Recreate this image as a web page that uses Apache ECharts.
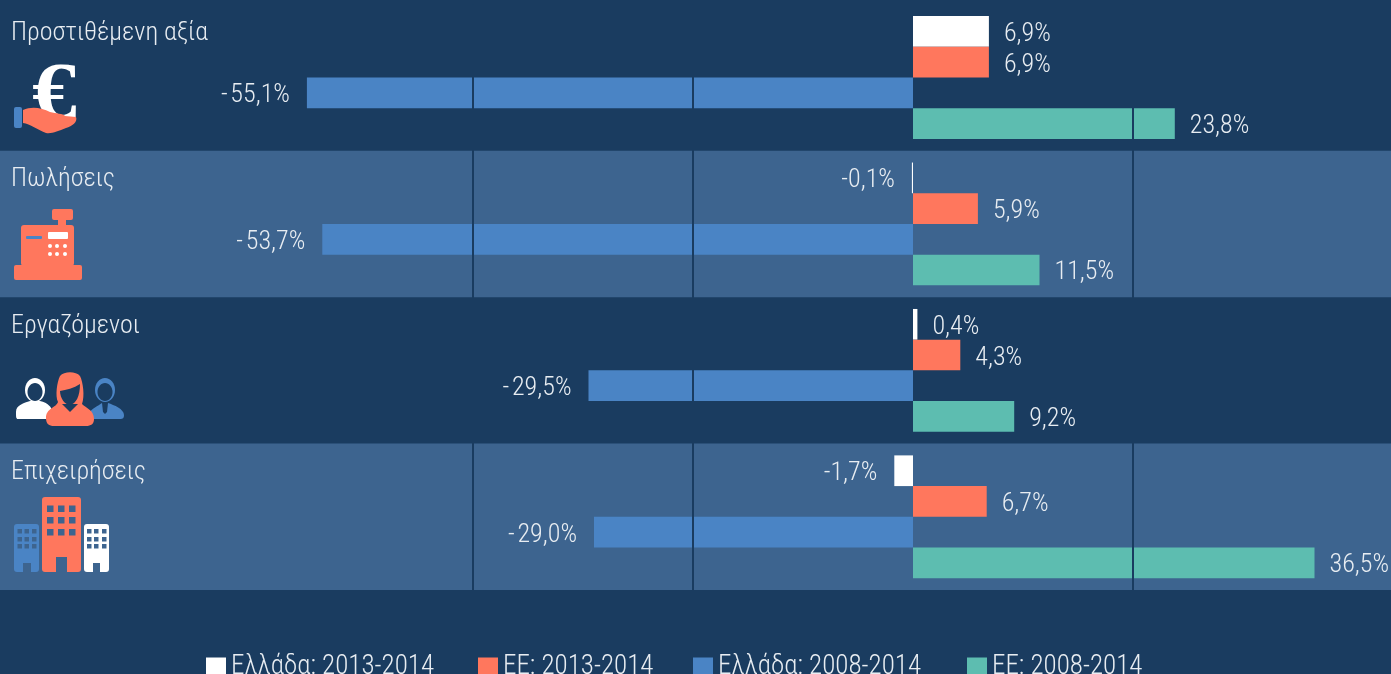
<!DOCTYPE html>
<html>
<head>
    <meta charset="utf-8">
    <title>Προστιθέμενη αξία</title>
    <script src="https://cdn.jsdelivr.net/npm/echarts@6/dist/echarts.min.js"></script>
    <style>
        html, body { margin: 0; padding: 0; background: #1a3c60; overflow: hidden; }
        #main { width: 1391px; height: 674px; }
    </style>
</head>
<body>
<div id="main"></div>
<script>
var categories = ['Προστιθέμενη αξία', 'Πωλήσεις', 'Εργαζόμενοι', 'Επιχειρήσεις'];
var seriesNames = ['Ελλάδα: 2013-2014', 'ΕΕ: 2013-2014', 'Ελλάδα: 2008-2014', 'ΕΕ: 2008-2014'];
var greece1314 = [6.9, -0.1, 0.4, -1.7];
var eu1314 = [6.9, 5.9, 4.3, 6.7];
var greece0814 = [-55.1, -53.7, -29.5, -29.0];
var eu0814 = [23.8, 11.5, 9.2, 36.5];
var gridTicks = [-40, -20, 20];

var BG = '#1a3c60', BAND = '#3d648f', WHITE = '#ffffff', CORAL = '#ff775d', BLUE = '#4a84c5', TEAL = '#5dbdb0';
var TEXT = '#e8edf2';
var FONT = 'Roboto';
var LIGHT_NARROW = '300 condensed';   // Roboto is variable here, this narrows it
var legendLefts = [206, 478, 693, 967];

function pct(v) {
    var s = Math.abs(v).toFixed(1).replace('.', ',') + '%';
    if (v < 0) return (v <= -10 ? '-\u200a' : '-') + s;
    return s;
}

function barSeries(name, values, color) {
    return {
        name: name,
        type: 'bar',
        barWidth: 30.7,
        barGap: 0,
        itemStyle: { color: color },
        data: values.map(function (v) {
            return { value: v, label: { position: v < 0 ? 'left' : 'right', offset: [v < 0 ? -2 : 0, 3] } };
        }),
        label: {
            show: true,
            distance: 15,
            color: TEXT,
            fontFamily: FONT,
            fontWeight: LIGHT_NARROW,
            fontSize: 26,
            formatter: function (p) { return pct(p.value); }
        }
    };
}

function rect(x, y, w, h, fill, r) {
    return { type: 'rect', z: 10, shape: { x: x, y: y, width: w, height: h, r: r || 0 }, style: { fill: fill }, silent: true };
}
function circle(cx, cy, r, fill) {
    return { type: 'circle', z: 10, shape: { cx: cx, cy: cy, r: r }, style: { fill: fill }, silent: true };
}
function ellipse(cx, cy, rx, ry, fill) {
    return { type: 'ellipse', z: 10, shape: { cx: cx, cy: cy, rx: rx, ry: ry }, style: { fill: fill }, silent: true };
}
var pathCount = 0;
function path(d, fill) {
    var name = 'iconPath' + (pathCount++);
    echarts.graphic.registerShape(name, echarts.graphic.extendPath(d, {}));
    return { type: name, z: 10, style: { fill: fill }, silent: true };
}
function windows(list, xs, ys, size, fill) {
    ys.forEach(function (y) {
        xs.forEach(function (x) { list.push(rect(x, y, size, size, fill)); });
    });
}

// εικονίδια
var icons = [];
// ευρώ στο χέρι
icons.push({
    type: 'text', z: 10, x: 32, y: 57, scaleX: 1.12, silent: true,
    style: { text: '€', fill: WHITE, font: 'bold 80px "Liberation Serif"' }
});
icons.push(rect(14, 107, 8, 21, BLUE, 2));
icons.push(path('M23 110 C32 106 42 108 50 112 C56 114 63 113 65 116 L76 117 C78 122 72 126 66 128 C58 131 52 134 46 133 C38 130 30 124 23 123 Z', CORAL));
// ταμειακή
icons.push(rect(14, 265, 68, 15, CORAL, 2));
icons.push(rect(21, 225, 53, 41, CORAL, 3));
icons.push(rect(52, 209, 21, 11, CORAL, 2));
icons.push(rect(58, 219, 8, 7, CORAL));
icons.push(rect(26, 236, 16, 3, BLUE, 1));
icons.push(rect(48, 232, 20, 7, WHITE, 1));
[50, 57, 65].forEach(function (x) {
    icons.push(circle(x, 246, 2, WHITE));
    icons.push(circle(x, 254, 2, WHITE));
});
// άνθρωποι
icons.push(path('M16 412 C16 405 24 403 30 401 L40 401 C48 403 52 407 52 412 L52 419 L18 419 C16 419 16 417 16 412 Z', WHITE));
icons.push(ellipse(35, 390, 10, 12, WHITE));
icons.push(ellipse(35, 392, 7.5, 9, BG));
icons.push(path('M88 414 C92 408 98 406 102 403 L108 403 C114 405 124 409 124 415 C124 418 123 419 120 419 L88 419 Z', BLUE));
icons.push(ellipse(105, 390, 10, 12, BLUE));
icons.push(ellipse(105, 392, 7.5, 9, BG));
icons.push(path('M102 403 L108 403 L107 412 L105 414 L103 412 Z', BG));
icons.push(path('M46 418 C46 408 56 408 58 402 C55 396 57 382 60 376 C64 371 76 371 80 376 C83 382 85 396 82 404 C86 408 94 410 94 419 C94 424 91 426 86 426 L54 426 C49 426 46 424 46 418 Z', CORAL));
icons.push(path('M60 391 C66 390 74 388 80 384 C80 396 76 404 70 405 C65 405 60 398 60 391 Z', BG));
icons.push(path('M62 404 L78 404 L70 412 Z', BG));
// κτίρια
icons.push(rect(14, 524, 25, 48, BLUE, 3));
windows(icons, [17.5, 24.5, 32], [529, 537, 544], 4.5, BAND);
icons.push(rect(23, 563, 8, 9, BAND));
icons.push(rect(42, 497, 39, 75, CORAL, 3));
windows(icons, [47, 58, 69], [505.5, 517, 529], 6.5, BAND);
icons.push(rect(56, 557, 11, 15, BAND));
icons.push(rect(84, 524, 25, 48, WHITE, 3));
windows(icons, [87, 94, 102], [529, 537, 544], 4.5, BAND);
icons.push(rect(93, 563, 7, 9, BAND));

var chart = echarts.init(document.getElementById('main'));
var series = [
    barSeries(seriesNames[0], greece1314, WHITE),
    barSeries(seriesNames[1], eu1314, CORAL),
    barSeries(seriesNames[2], greece0814, BLUE),
    barSeries(seriesNames[3], eu0814, TEAL)
];
series[0].markLine = {
    silent: true,
    symbol: 'none',
    z: 6,
    label: { show: false },
    lineStyle: { color: BG, width: 2, type: 'solid' },
    data: gridTicks.map(function (t) { return { xAxis: t }; })
};

chart.setOption({
    backgroundColor: BG,
    animation: false,
    grid: { left: 0, right: 0, top: 4.3, height: 585.7, outerBoundsMode: 'none' },
    // one legend per item, the gaps are not equal in the picture
    legend: seriesNames.map(function (name, i) {
        return {
            data: [name],
            left: legendLefts[i],
            top: 654,
            padding: 0,
            itemWidth: 20,
            itemHeight: 20,
            icon: 'rect',
            selectedMode: false,
            textStyle: { color: TEXT, fontFamily: FONT, fontWeight: LIGHT_NARROW, fontSize: 27 }
        };
    }),
    xAxis: {
        type: 'value',
        min: -83,
        max: 43.4545,
        axisLine: { show: false },
        axisTick: { show: false },
        axisLabel: { show: false },
        splitLine: { show: false }
    },
    yAxis: {
        type: 'category',
        inverse: true,
        data: categories,
        axisLine: { show: false },
        axisTick: { show: false },
        splitArea: { show: true, areaStyle: { color: ['rgba(0,0,0,0)', BAND] } },
        axisLabel: {
            inside: true,
            interval: 0,
            showMinLabel: true,
            showMaxLabel: true,
            margin: 11,
            color: TEXT,
            fontFamily: FONT,
            fontWeight: LIGHT_NARROW,
            fontSize: 26,
            lineHeight: 88,
            formatter: function (name) { return name + '\n '; }
        }
    },
    series: series,
    graphic: { elements: icons }
});
</script>
</body>
</html>
